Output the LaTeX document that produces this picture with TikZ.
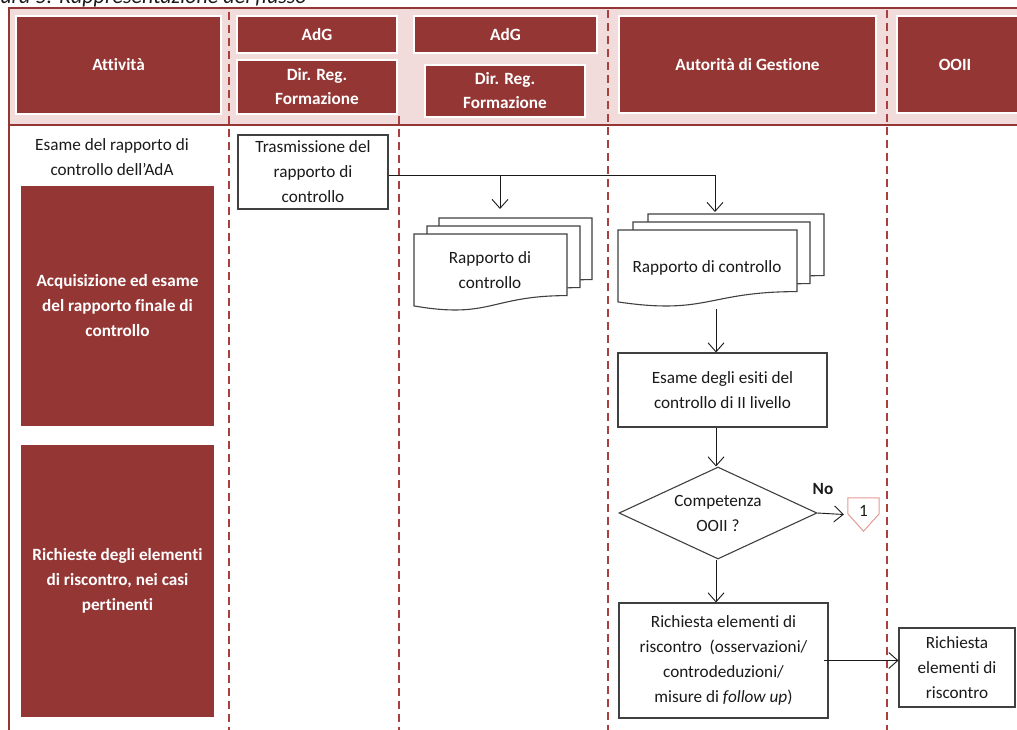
\documentclass[tikz,border=0pt]{standalone}
\usepackage{fontspec}
\setmainfont{Carlito}[Ligatures=NoCommon]
\usetikzlibrary{arrows.meta,shapes.geometric}
\definecolor{adgred}{HTML}{943634}
\definecolor{hdrpink}{HTML}{F2DCDB}
\definecolor{lanered}{HTML}{A9403E}
\definecolor{conpink}{HTML}{E39A98}
\definecolor{ink}{HTML}{1A1A1A}
\definecolor{boxline}{HTML}{404040}
\tikzset{
 hdrbox/.style={fill=adgred, draw=white, line width=2pt, text=white, font=\bfseries\fontsize{17.2}{24}\selectfont, align=center, inner sep=0pt},
 actbox/.style={fill=adgred, text=white, font=\bfseries\fontsize{17.2}{25}\selectfont, align=center, inner sep=0pt},
 procbox/.style={draw=boxline, fill=white, line width=1.1pt, text=ink, font=\fontsize{17.2}{25}\selectfont, align=center, inner sep=0pt},
 plain/.style={text=ink, font=\fontsize{17.2}{25}\selectfont, align=center, inner sep=0pt},
 lane/.style={draw=lanered, line width=1.6pt, dash pattern=on 8pt off 5pt},
 flow/.style={draw=ink, line width=0.9pt, -{Straight Barb[length=9pt,width=16pt,line width=0.9pt]}},
 docpage/.style={draw=boxline, fill=white, line width=1.1pt},
}
\newcommand\docpage[4]{%
  \filldraw[docpage] (#1,#2) -- (#1+#3,#2) -- (#1+#3,#2+0.8*#4)
    .. controls (#1+0.5*#3,#2+0.8*#4) and (#1+0.5*#3,#2+1.107*#4) .. (#1,#2+0.934*#4) -- cycle;}
\begin{document}
\begin{tikzpicture}[x=1pt,y=-1pt]
\clip (0,0) rectangle (1017,729);
% title (cut at top)
\node[anchor=base east, font=\itshape\fontsize{22}{26}\selectfont, text=ink, inner sep=0pt] (title) at (307,3.5) {Figura 5: Rappresentazione del flusso};
% header band
\fill[hdrpink] (9,8) rectangle (1030,124);
\draw[adgred, line width=2.5pt] (9,8) -- (1030,8);
\draw[adgred, line width=2pt] (9,7) -- (9,740);
\draw[adgred, line width=2pt] (9,125) -- (1030,125);
% lanes
\draw[lane] (229,12) -- (229,740);
\draw[lane] (399,116) -- (399,740);
\draw[lane] (608,10) -- (608,740);
\draw[lane] (887,10) -- (887,740);
% header boxes
\node[hdrbox, minimum width=205, minimum height=98] (att) at (118.5,65) {Attività};
\node[hdrbox, minimum width=160, minimum height=37] (adg1) at (317,34.5) {AdG};
\node[hdrbox, minimum width=160, minimum height=54] (dir1) at (317,87) {Dir. Reg.\\Formazione};
\node[hdrbox, minimum width=183, minimum height=37] (adg2) at (505.5,34.5) {AdG};
\node[hdrbox, minimum width=160, minimum height=52] (dir2) at (505,91) {Dir. Reg.\\Formazione};
\node[hdrbox, minimum width=257, minimum height=97] (adgest) at (747.5,64.5) {Autorità di Gestione};
\node[hdrbox, minimum width=140, minimum height=97] (ooii) at (967,64.5) {};
\node[font=\bfseries\fontsize{17.2}{24}\selectfont, text=white, inner sep=0pt] (ooiit) at (955,64.5) {OOII};
% activities column
\node[plain] (esameada) at (112,157.5) {Esame del rapporto di\\controllo dell’AdA};
\node[actbox, minimum width=193, minimum height=240] (acq) at (117.5,306) {Acquisizione ed esame\\del rapporto finale di\\controllo};
\node[actbox, minimum width=193, minimum height=272] (richatt) at (117.5,581) {Richieste degli elementi\\di riscontro, nei casi\\pertinenti};
% transmission
\node[procbox, minimum width=150, minimum height=74] (trans) at (313,172) {Trasmissione del\\rapporto di\\controllo};
% document stacks
\docpage{439}{218}{153}{77}
\docpage{427}{226}{153}{77}
\docpage{414}{234}{153}{77}
\node[plain] (doc1) at (490,270) {Rapporto di\\controllo};
\docpage{648}{214}{176}{77}
\docpage{633}{222}{177}{77}
\docpage{618}{230}{179}{77}
\node[plain] (doc2) at (707,268) {Rapporto di controllo};
\coordinate (d1in) at (500,209);
\coordinate (d2in) at (715,212);
\coordinate (j1) at (500,175);
\coordinate (d2out) at (716,309);
% AdG flow
\node[procbox, minimum width=209, minimum height=74] (esame) at (722.5,390) {Esame degli esiti del\\controllo di II livello};
\node[draw=boxline, fill=white, line width=1.1pt, shape=diamond, shape aspect=2.15, minimum width=198, minimum height=92, inner sep=0pt, text=ink, font=\fontsize{17.2}{25}\selectfont, align=center] (dia) at (718,513) {Competenza\\OOII ?};
\node[font=\bfseries\fontsize{17.2}{20}\selectfont, text=ink, inner sep=0pt] (nolab) at (823,489) {No};
\node[minimum width=31, minimum height=33, inner sep=0pt] (off1) at (863.5,514.5) {};
\draw[conpink, line width=1pt, fill=white] (off1.north west) -- (off1.north east) -- ([yshift=-16pt]off1.north east) -- (off1.south) -- ([yshift=-16pt]off1.north west) -- cycle;
\node[text=ink, font=\fontsize{17.2}{20}\selectfont, inner sep=0pt] (off1t) at (863.5,511) {1};
\node[procbox, minimum width=209, minimum height=115] (rq) at (723.5,660.5) {Richiesta elementi di\\riscontro \ (osservazioni/\\controdeduzioni/\\misure di \textit{follow up})};
\node[procbox, minimum width=116, minimum height=79] (riscR) at (957,667.5) {Richiesta\\elementi di\\riscontro};
% connectors
\draw[draw=ink, line width=0.9pt] ([yshift=-3pt]trans.east) -- (j1);
\draw[flow] ([yshift=-3pt]trans.east) -| (d2in);
\draw[flow] (j1) -- (d1in);
\draw[flow] (d2out) -- (esame.north -| d2out);
\draw[flow] (esame.south -| d2out) -- (dia.north -| d2out);
\draw[flow] (dia.east) -- ([xshift=-4pt]off1.west);
\draw[flow] (dia.south -| d2out) -- (rq.north -| d2out);
\draw[flow] ([xshift=-5pt]rq.east) -- (riscR.west |- rq.east);
\end{tikzpicture}
\end{document}
